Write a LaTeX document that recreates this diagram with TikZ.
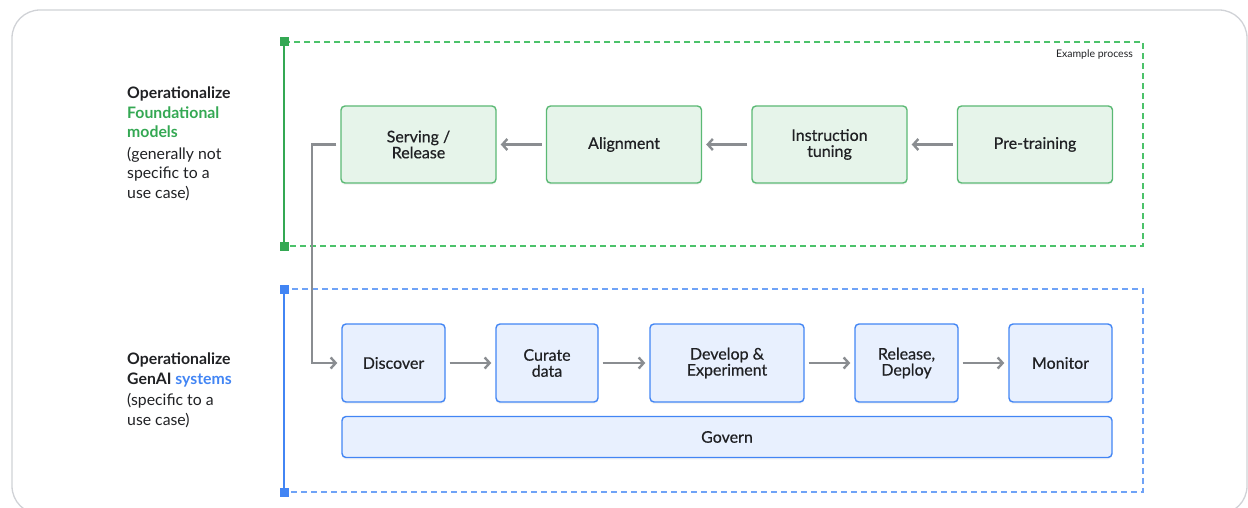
\documentclass[tikz,border=0pt]{standalone}
\usepackage{fontspec}
\setmainfont{Lato}
\newfontfamily\boxfont[FakeBold=0.5]{Lato}
\usetikzlibrary{arrows.meta,shadows,calc}
\definecolor{gborder}{HTML}{5BB974}
\definecolor{gdash}{HTML}{4CC26A}
\definecolor{gfill}{HTML}{E6F4EA}
\definecolor{gline}{HTML}{34A853}
\definecolor{bborder}{HTML}{4285F4}
\definecolor{bfill}{HTML}{E8F0FE}
\definecolor{bdash}{HTML}{6FA3F7}
\definecolor{arr}{HTML}{8A8D91}
\definecolor{txt}{HTML}{202124}
\definecolor{framec}{HTML}{D0D2D6}
\tikzset{
  boxbase/.style={rounded corners=4pt, line width=1.4pt, align=center, text=txt,
    inner sep=0pt, font=\boxfont\fontsize{16}{16}\selectfont,
    drop shadow={shadow xshift=0pt, shadow yshift=-2pt, opacity=0.08}},
  gbox/.style={boxbase, draw=gborder, fill=gfill, minimum width=155pt, minimum height=77pt},
  bbox/.style={boxbase, draw=bborder, fill=bfill, minimum height=78pt},
  conn/.style={draw=arr, line width=2.4pt, -{Straight Barb[length=5pt,width=11pt]},
    shorten <=4pt, shorten >=4pt},
  marker/.style={minimum size=9pt, inner sep=0pt, outer sep=0pt},
  dashbox/.style={line width=1.15pt, dash pattern=on 6pt off 4pt},
  lbl/.style={anchor=north west, inner sep=0pt, align=left, text=txt,
    font=\fontsize{15.8}{19.5}\selectfont},
}
\begin{document}
\begin{tikzpicture}[x=1pt,y=-1pt]
\useasboundingbox (0,0) rectangle (1248,508);
\begin{scope}
\clip (0,0) rectangle (1248,508);
\draw[framec, line width=1.3pt, rounded corners=28pt] (12,10) rectangle (1247,514);
\end{scope}

% containers
\draw[draw=gdash, dashbox] (284,42) rectangle (1143,246);
\draw[draw=bdash, dashbox] (284,289) rectangle (1143,492);
\node[marker, fill=gline] (gtop) at (284,42) {};
\node[marker, fill=gline] (gbot) at (284,246) {};
\draw[gline, line width=2.8pt] (gtop) -- (gbot);
\node[marker, fill=bborder] (btop) at (284,289) {};
\node[marker, fill=bborder] (bbot) at (284,492) {};
\draw[bborder, line width=2.8pt] (btop) -- (bbot);

\node[anchor=east, inner sep=0pt, text=txt, font=\fontsize{10.5}{12}\selectfont] (ex) at (1133,55) {Example process};

% left labels
\node[lbl] (lab1) at (127,87) {\textbf{Operationalize}\\\textbf{\color{gline}Foundational}\\\textbf{\color{gline}models}\\[2pt](generally not\\specific to a\\use case)};
\node[lbl] (lab2) at (127,353) {\textbf{Operationalize}\\\textbf{GenAI \color{bborder}systems}\\[2pt](specific to a\\use case)};

% green nodes
\node[gbox] (serv) at (418.5,144.5) {Serving /\\Release};
\node[gbox] (align) at (624,144.5) {Alignment};
\node[gbox] (instr) at (829.5,144.5) {Instruction\\tuning};
\node[gbox] (pre) at (1035,144.5) {Pre-training};

% blue nodes
\node[bbox, minimum width=103pt] (disc) at (393.5,363) {Discover};
\node[bbox, minimum width=102pt] (cur) at (547,363) {Curate\\data};
\node[bbox, minimum width=154pt] (dev) at (727,363) {Develop \&\\Experiment};
\node[bbox, minimum width=103pt] (rel) at (906.5,363) {Release,\\Deploy};
\node[bbox, minimum width=103pt] (mon) at (1060.5,363) {Monitor};
\node[bbox, minimum width=770pt, minimum height=41pt] (gov) at (727,437) {Govern};

% connectors
\draw[conn] (pre) -- (instr);
\draw[conn] (instr) -- (align);
\draw[conn] (align) -- (serv);
\coordinate (jog) at (312,0);
\draw[conn] (serv.west) -- (jog |- serv.west) -- (jog |- disc.west) -- (disc.west);
\draw[conn] (disc) -- (cur);
\draw[conn] (cur) -- (dev);
\draw[conn] (dev) -- (rel);
\draw[conn] (rel) -- (mon);
\end{tikzpicture}
\end{document}
